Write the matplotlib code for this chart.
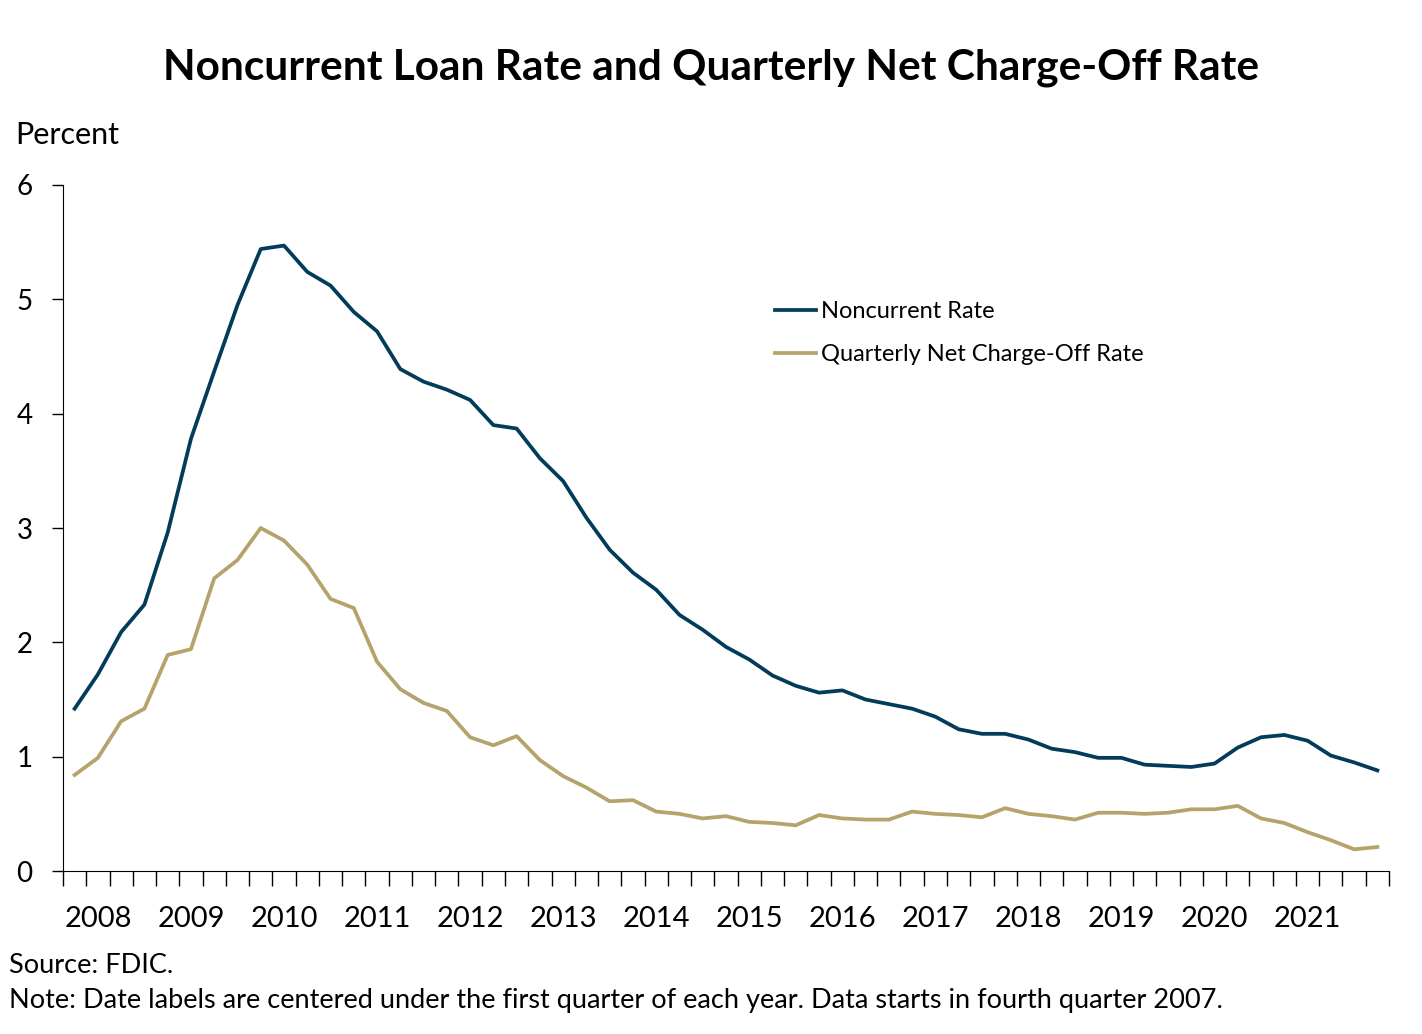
import numpy as np
import matplotlib.pyplot as plt

plt.rcParams['font.family'] = ['Lato', 'DejaVu Sans']

# quarterly data, Q4 2007 .. Q4 2021
noncurrent = [1.42, 1.72, 2.09, 2.33, 2.96, 3.78, 4.37, 4.95, 5.44, 5.47,
              5.24, 5.12, 4.89, 4.72, 4.39, 4.28, 4.21, 4.12, 3.90, 3.87,
              3.61, 3.41, 3.09, 2.81, 2.61, 2.46, 2.24, 2.11, 1.96, 1.85,
              1.71, 1.62, 1.56, 1.58, 1.50, 1.46, 1.42, 1.35, 1.24, 1.20,
              1.20, 1.15, 1.07, 1.04, 0.99, 0.99, 0.93, 0.92, 0.91, 0.94,
              1.08, 1.17, 1.19, 1.14, 1.01, 0.95, 0.88]
chargeoff = [0.84, 0.99, 1.31, 1.42, 1.89, 1.94, 2.56, 2.72, 3.00, 2.89,
             2.68, 2.38, 2.30, 1.83, 1.59, 1.47, 1.40, 1.17, 1.10, 1.18,
             0.97, 0.83, 0.73, 0.61, 0.62, 0.52, 0.50, 0.46, 0.48, 0.43,
             0.42, 0.40, 0.49, 0.46, 0.45, 0.45, 0.52, 0.50, 0.49, 0.47,
             0.55, 0.50, 0.48, 0.45, 0.51, 0.51, 0.50, 0.51, 0.54, 0.54,
             0.57, 0.46, 0.42, 0.34, 0.27, 0.19, 0.21]
years = list(range(2008, 2022))

navy = '#033c5a'
tan = '#b4a46b'

fig = plt.figure(figsize=(14.22, 10.34), dpi=100)
ax = fig.add_axes([0.0443, 0.1576, 0.9325, 0.6635])

x = np.arange(len(noncurrent))
ax.plot(x, noncurrent, color=navy, lw=2.7, label='Noncurrent Rate')
ax.plot(x, chargeoff, color=tan, lw=2.7, label='Quarterly Net Charge-Off Rate')

ax.set_xlim(-0.5, len(x) - 0.5)
ax.set_ylim(0, 6)
ax.set_yticks(range(0, 7))
ax.tick_params(axis='y', direction='out', length=8, width=1, labelsize=20, pad=14)

# quarter boundary ticks, year labels under Q1
ax.set_xticks(np.arange(-0.5, len(x)))
ax.set_xticklabels([])
ax.tick_params(axis='x', which='major', direction='out', length=11, width=1)
ax.set_xticks([1 + 4 * i for i in range(len(years))], minor=True)
ax.set_xticklabels([str(y) for y in years], minor=True)
ax.tick_params(axis='x', which='minor', length=0, labelsize=21, pad=25)

for s in ['top', 'right']:
    ax.spines[s].set_visible(False)

ax.legend(loc='upper left', bbox_to_anchor=(0.521, 0.862), frameon=False,
          fontsize=17, handlelength=1.75, handletextpad=0.2, labelspacing=0.95)

fig.text(0.5, 0.934, 'Noncurrent Loan Rate and Quarterly Net Charge-Off Rate',
         ha='center', va='center', fontsize=30.5, fontweight='bold')
fig.text(0.011, 0.869, 'Percent', ha='left', va='center', fontsize=22)
fig.text(0.006, 0.066, 'Source: FDIC.', ha='left', va='center', fontsize=19.5)
fig.text(0.006, 0.032, 'Note: Date labels are centered under the first quarter of each year. Data starts in fourth quarter 2007.',
         ha='left', va='center', fontsize=19.5)

fig.savefig('out.png', dpi=100)
